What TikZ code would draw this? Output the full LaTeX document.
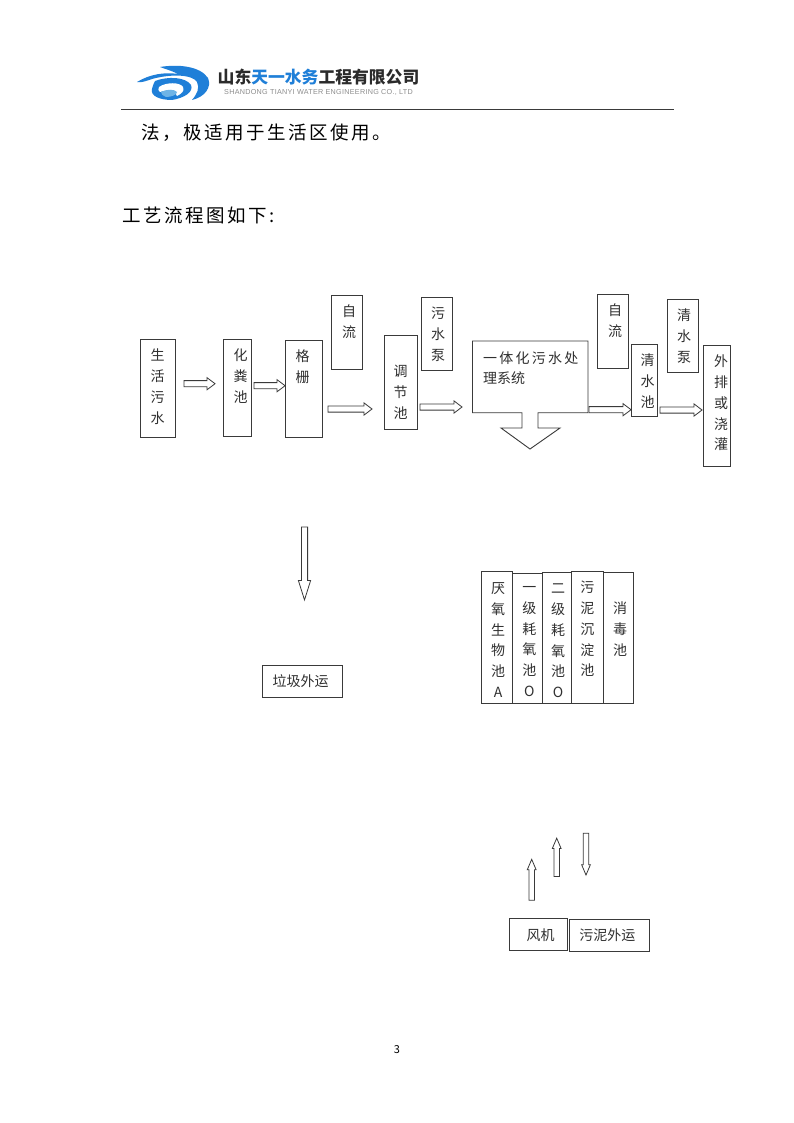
\documentclass[tikz,border=0pt]{standalone}
\usepackage{fontspec}
\setmainfont{Noto Sans CJK SC}
\newfontfamily\wideA[LetterSpace=16]{Noto Sans CJK SC}
\newfontfamily\wideC[LetterSpace=13.5]{Noto Sans CJK SC}
\newfontfamily\latinf[LetterSpace=4]{Liberation Sans}
\usetikzlibrary{shapes.arrows}
\definecolor{logoblue}{HTML}{1F7FD8}
\definecolor{logolight}{HTML}{6FB4E6}
\definecolor{logodark}{HTML}{2B2B2B}
\definecolor{linegray}{HTML}{3A3A3A}
\definecolor{textgray}{HTML}{303030}
\tikzset{
  x=1pt,y=-1pt,
  boxframe/.style={draw=linegray,line width=0.9pt,inner sep=0pt,outer sep=0pt},
  vtext/.style={align=center,inner sep=0pt,text=textgray,font=\fontsize{14}{20.8}\selectfont},
  htext/.style={inner sep=0pt,text=textgray,font=\fontsize{14}{20.8}\selectfont},
  blockarrow/.style={single arrow,draw=linegray,line width=0.8pt,inner sep=0pt,outer sep=0pt,
    text width=5.4pt,text height=5.4pt,text depth=0pt,single arrow head extend=3pt,single arrow head indent=0pt,
    single arrow tip angle=74},
  smallarrow/.style={blockarrow,text width=4.6pt,text height=4.6pt,single arrow head extend=1.7pt,
    single arrow tip angle=46},
  bodytext/.style={inner sep=0pt,anchor=west,text=black},
}
% name, x1, y1, x2, y2
\newcommand{\pbox}[5]{%
  \node[boxframe,minimum width=\dimexpr#4pt-#2pt\relax,minimum height=\dimexpr#5pt-#3pt\relax,
    anchor=north west] (#1) at (#2,#3) {};}
\begin{document}
\begin{tikzpicture}
\useasboundingbox (0,0) rectangle (794,1123);
\fill[white] (0,0) rectangle (794,1123);
% logo
\fill[logoblue] (137,82) .. controls (150,74) and (165,72) .. (178,74) .. controls (170,70) and (165,69) .. (160,67)
  .. controls (178,64) and (200,66) .. (208,78) .. controls (212,87) and (205,97) .. (192,100)
  .. controls (197,94) and (200,88) .. (197,82) .. controls (192,74) and (170,74) .. (152,79)
  .. controls (146,81) and (141,83) .. (137,82) -- cycle;
\fill[logoblue] (155,81) .. controls (168,76) and (186,77) .. (191,85) .. controls (194,92) and (184,98) .. (172,100)
  .. controls (160,100) and (150,96) .. (152,89) .. controls (153,85) and (154,83) .. (155,81) -- cycle;
\fill[white] (159,87) .. controls (166,82) and (180,82) .. (183,87) .. controls (185,91) and (181,94) .. (177,96)
  .. controls (177,90) and (166,90) .. (160,92) .. controls (158,91) and (158,89) .. (159,87) -- cycle;
\fill[logolight] (161,92) .. controls (166,89) and (175,89) .. (177,92) .. controls (177,95) and (171,97) .. (166,97)
  .. controls (163,96) and (161,94) .. (161,92) -- cycle;
\node[inner sep=0pt,anchor=center,font=\fontsize{16.8}{18}\bfseries\selectfont,text=logodark] (company) at (318.5,77)
  {山东\textcolor{logoblue}{天一水务}工程有限公司};
\node[inner sep=0pt,anchor=center,font=\fontsize{7.2}{9}\latinf\selectfont,text=black!45] (companyen) at (318.5,92)
  {SHANDONG TIANYI WATER ENGINEERING CO., LTD};
\draw[linegray,line width=0.9pt] (121,109.5) -- (674,109.5);
\node[bodytext,font=\fontsize{18.5}{20}\wideC\selectfont] (line1) at (141,133) {法，极适用于生活区使用。};
\node[bodytext,font=\fontsize{18.5}{20}\wideC\selectfont] (line2) at (122,215) {工艺流程图如下:};
% upper row boxes
\pbox{b1}{140}{339}{175}{437}
\pbox{b2}{223.5}{339}{251.5}{436}
\pbox{b3}{285.5}{340}{322}{437}
\pbox{b4}{331.5}{295}{362}{369}
\pbox{b5}{384}{335}{417}{429}
\pbox{b6}{421.5}{297}{452}{370}
\pbox{b7}{597.5}{294}{628}{368}
\pbox{b8}{631}{344}{657.5}{416}
\pbox{b9}{667.5}{299}{698}{372}
\pbox{b10}{703.5}{345}{730.5}{466}
\draw[linegray,line width=0.9pt,line join=miter] (472.5,341) -- (588,341) -- (588,412.7) -- (538,412.7) -- (538,428)
  -- (560,428) -- (530,449) -- (501,428) -- (522,428) -- (522,412.7) -- (472.5,412.7) -- cycle;
\node[vtext] (tb1) at (157.5,386.5) {生\\活\\污\\水};
\node[vtext] (tb2) at (240.7,376) {化\\粪\\池};
\node[vtext] (tb3) at (302.7,367) {格\\栅};
\node[vtext] (tb4) at (349,322) {自\\流};
\node[vtext] (tb5) at (400.7,392.5) {调\\节\\池};
\node[vtext] (tb6) at (438,334) {污\\水\\泵};
\node[htext,anchor=west,font=\fontsize{14}{20.8}\wideA\selectfont] (sys1) at (483,357.7) {一体化污水处};
\node[htext,anchor=west] (sys2) at (483,378) {理系统};
\node[vtext] (tb7) at (615,321) {自\\流};
\node[vtext] (tb8) at (647.7,381) {清\\水\\池};
\node[vtext] (tb9) at (684,336) {清\\水\\泵};
\node[vtext] (tb10) at (721,403) {外\\排\\或\\浇\\灌};
% horizontal block arrows
\node[blockarrow,minimum height=31pt] (a1) at (197.5,383.7) {};
\node[blockarrow,minimum height=31pt] (a2) at (267.5,385.7) {};
\node[blockarrow,minimum height=44pt] (a3) at (348,409) {};
\node[blockarrow,minimum height=42pt] (a4) at (439,407) {};
\node[blockarrow,minimum height=42pt] (a5) at (608,409.7) {};
\node[blockarrow,minimum height=42pt] (a6) at (679,410) {};
% trash
\node[blockarrow,minimum height=73pt,single arrow tip angle=35,shape border rotate=270] (a7) at (304.5,558.5) {};
\pbox{b11}{262}{665}{342.5}{697}
\node[vtext] (tb11) at (300.7,681) {垃圾外运};
% tanks
\pbox{t1}{481}{571.5}{512}{703}
\pbox{t2}{512}{573}{542}{703}
\pbox{t3}{542}{572}{571}{703}
\pbox{t4}{571}{571}{603.5}{703}
\pbox{t5}{603.5}{572}{633}{703}
\node[vtext] (tt1) at (498,640) {厌\\氧\\生\\物\\池\\A};
\node[vtext] (tt2) at (529.3,641.5) {一\\级\\耗\\氧\\池\\O};
\node[vtext] (tt3) at (558,641) {二\\级\\耗\\氧\\池\\O};
\node[vtext] (tt4) at (587.3,629) {污\\泥\\沉\\淀\\池};
\node[vtext] (tt5) at (620,629) {消\\毒\\池};
% small vertical arrows
\node[smallarrow,minimum height=41pt,shape border rotate=90] (a8) at (531.7,883) {};
\node[smallarrow,minimum height=38.3pt,shape border rotate=90] (a9) at (556.7,860.5) {};
\node[smallarrow,minimum height=41.7pt,shape border rotate=270] (a10) at (586,851) {};
\pbox{b12}{509.5}{918.5}{567}{950}
\pbox{b13}{569}{919}{649.5}{951}
\node[vtext] (tb12) at (540.7,935) {风机};
\node[vtext] (tb13) at (607.3,935) {污泥外运};
\node[inner sep=0pt,font=\fontsize{11}{13}\selectfont] (pageno) at (397,1050) {3};
\end{tikzpicture}
\end{document}
